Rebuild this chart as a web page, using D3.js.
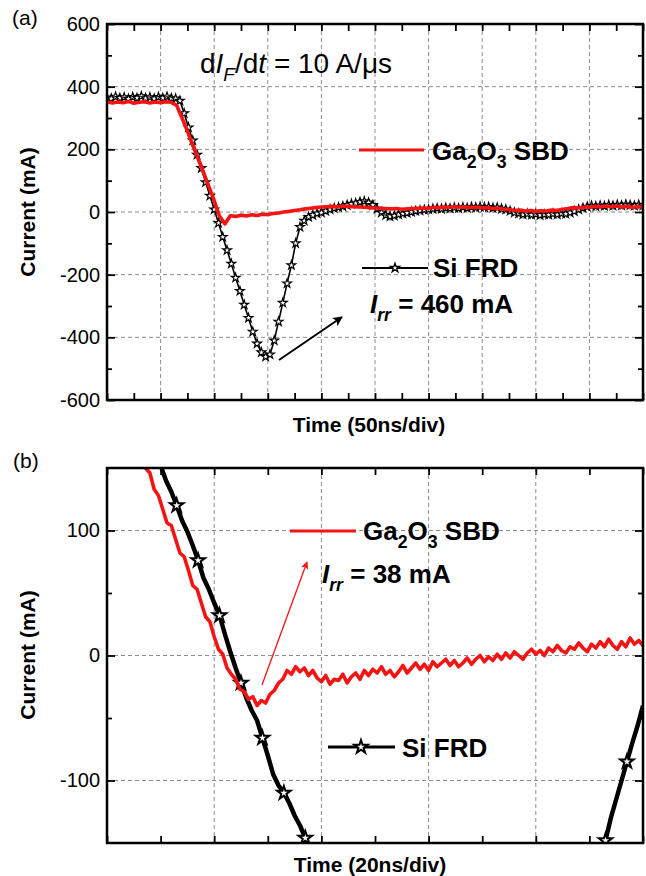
<!DOCTYPE html>
<html>
<head>
<meta charset="utf-8">
<script src="https://cdn.jsdelivr.net/npm/d3@7"></script>
<style>
  body { margin: 0; background: #fff; }
</style>
</head>
<body>
<svg id="fig" width="646" height="876"></svg>
<script>
// time is in divisions: (a) 50 ns/div, (b) 20 ns/div. current in mA.

// panel (a) Ga2O3 SBD, sampled every 0.1 div from 0
var aRedStart = 0, aRedStep = 0.1;
var aRed = [352,348,351,349,353,347,350,352,348,351,349,352,350,
  340,300,258,213,170,126,82,36,-14,-38,-12,-14,-10,-13,-9,-11,-7,
  -8,-5,-3,0,2,5,7,10,12,14,
  16,17,18,17,19,18,17,16,15,14,
  13,12,11,10,11,9,10,11,12,13,
  12,15,14,16,15,17,15,16,14,16,
  13,14,11,12,9,8,5,6,3,5,
  2,4,3,6,5,9,11,14,13,16,
  15,18,16,19,17,19,16,18,15,17,16];

// panel (a) Si FRD, sampled every 0.08 div from 0
var aBlkStart = 0, aBlkStep = 0.08;
var aBlk = [365,362,368,364,366,361,367,364,369,363,366,362,367,364,368,363,362,
  355,315,270,228,183,140,95,52,8,-35,-80,-122,-165,-210,-252,-296,-338,-382,-420,-448,-462,
  -455,-410,-350,-290,-228,-170,-100,-48,-28,-16,-10,-5,-2,
  3,8,12,15,18,22,26,28,32,34,30,22,
  10,-2,-10,-14,-12,-8,-5,-3,0,3,5,7,
  8,10,12,10,13,11,14,12,15,13,16,14,17,15,16,13,14,10,8,3,
  -2,-5,-8,-6,-9,-7,-10,-8,-9,-6,-8,-5,-6,-2,
  2,8,13,17,20,18,21,19,22,20,23,21,24,22,20,23,21];

// panel (b) Ga2O3 SBD, sampled every 0.04 div from 0.28
var bRedStart = 0.28, bRedStep = 0.04;
var bRed = [170,162,150,146,133,128,117,106,104,93,
  82,79,68,56,53,42,31,27,15,5,
  1,-10,-15,-19,-27,-29,-35,-33,-40,-36,
  -38,-31,-28,-22,-19,-12,-15,-9,-13,-10,
  -16,-12,-18,-21,-16,-23,-19,-20,-15,-22,
  -17,-14,-19,-12,-16,-11,-14,-9,-15,-12,
  -17,-13,-8,-14,-10,-6,-11,-7,-12,-5,
  -9,-6,-3,-8,-4,-9,-6,-2,-7,-3,
  0,-5,-1,-4,1,-3,2,-2,3,0,
  -3,2,5,1,4,0,6,3,8,4,
  2,7,5,10,6,3,9,6,11,7,
  13,8,5,11,7,14,9,12,8];

// panel (b) Si FRD, sampled every 0.05 div from 0.40 (mostly off scale in the middle)
var bBlkStart = 0.40, bBlkStep = 0.05;
var bBlk = [172,162,152,140,131,120,108,99,88,76,
  62,53,42,32,17,3,-10,-22,-34,-44,
  -52,-66,-80,-95,-104,-110,-118,-128,-136,-146,
  -156,-168,-180,-192,-205,-218,-230,-245,-258,-272,
  -285,-300,-312,-326,-340,-352,-365,-378,-390,-402,
  -413,-424,-433,-441,-448,-454,-458,-461,-462,-460,
  -455,-448,-440,-430,-418,-405,-390,-375,-358,-342,
  -325,-308,-292,-276,-262,-248,-236,-224,-213,-203,
  -194,-185,-177,-169,-160,-148,-130,-115,-100,-85,
  -70,-56,-40];

var aYTicks = [-600,-400,-200,0,200,400,600];
var aYMinor = [-500,-300,-100,100,300,500];
var bYTicks = [-100,0,100];
var bYMinor = [-50,50];

var FONT = "Arial, 'Liberation Sans', Helvetica, sans-serif";
var RED = "#f41414";
var svg = d3.select("#fig");

function series(start, step, vals) {
  return vals.map(function(v, i) { return {t: start + i * step, v: v}; });
}

function starPath(r) {
  // d3 star size is area; outer radius = sqrt(size * 0.8908)
  return d3.symbol().type(d3.symbolStar).size(r * r / 0.8908)();
}

function makePanel(p) {
  var g = svg.append("g").attr("transform", "translate(" + p.left + "," + p.top + ")");
  var x = d3.scaleLinear().domain([0, p.divs]).range([0, p.width]);
  var y = d3.scaleLinear().domain(p.yDomain).range([p.height, 0]);
  var xMajor = d3.range(0, p.divs + 1);
  var xMinor = d3.range(0.5, p.divs, 1);

  g.append("clipPath").attr("id", "clip-" + p.id)
    .append("rect").attr("width", p.width).attr("height", p.height);

  // dashed grid
  var grid = g.append("g").attr("stroke", "#8c8c8c").attr("stroke-width", 1).attr("stroke-dasharray", "4,3");
  grid.selectAll(".gx").data(xMajor.slice(1, -1)).enter().append("line")
    .attr("x1", function(d) { return x(d); }).attr("x2", function(d) { return x(d); })
    .attr("y1", 0).attr("y2", p.height);
  grid.selectAll(".gy").data(p.yGrid).enter().append("line")
    .attr("x1", 0).attr("x2", p.width)
    .attr("y1", function(d) { return y(d); }).attr("y2", function(d) { return y(d); });

  // inward ticks on all four sides
  function ticks(axisFn, scale, values, size, tx, ty, labels) {
    var a = axisFn(scale).tickValues(values).tickSizeInner(-size).tickSizeOuter(0).tickPadding(7);
    a.tickFormat(labels ? function(d) { return String(d); } : "");
    var ag = g.append("g").attr("transform", "translate(" + tx + "," + ty + ")").call(a);
    ag.select(".domain").remove();
    ag.selectAll(".tick line").attr("stroke", "#000").attr("stroke-width", 1.8);
    ag.selectAll("text").attr("font-size", 20).attr("font-family", FONT).attr("fill", "#000");
  }
  ticks(d3.axisLeft, y, p.yTicks, 8, 0, 0, true);
  ticks(d3.axisLeft, y, p.yMinor, 5, 0, 0, false);
  ticks(d3.axisRight, y, p.yTicks, 8, p.width, 0, false);
  ticks(d3.axisRight, y, p.yMinor, 5, p.width, 0, false);
  ticks(d3.axisBottom, x, xMajor, 7, 0, p.height, false);
  ticks(d3.axisBottom, x, xMinor, 7, 0, p.height, false);
  ticks(d3.axisTop, x, xMajor, 7, 0, 0, false);
  ticks(d3.axisTop, x, xMinor, 7, 0, 0, false);

  var line = d3.line()
    .x(function(d) { return x(d.t); })
    .y(function(d) { return y(d.v); });

  var plot = g.append("g").attr("clip-path", "url(#clip-" + p.id + ")");
  plot.append("path").datum(p.black)
    .attr("d", line).attr("fill", "none")
    .attr("stroke", "#000").attr("stroke-width", p.blackWidth).attr("stroke-linejoin", "round");
  plot.selectAll(".star")
    .data(p.black.filter(function(d, i) { return i % p.markEvery === p.markOffset; }))
    .enter().append("path")
    .attr("class", "star")
    .attr("d", starPath(p.starR))
    .attr("transform", function(d) { return "translate(" + x(d.t) + "," + y(d.v) + ")"; })
    .attr("fill", "#fff").attr("stroke", "#000").attr("stroke-width", p.starStroke);
  plot.append("path").datum(p.red)
    .attr("d", line).attr("fill", "none")
    .attr("stroke", RED).attr("stroke-width", p.redWidth).attr("stroke-linejoin", "round");

  g.append("rect").attr("width", p.width).attr("height", p.height)
    .attr("fill", "none").attr("stroke", "#000").attr("stroke-width", 2.5);
}

function richText(x, y, size, weight, parts, fill) {
  var t = svg.append("text").attr("x", x).attr("y", y)
    .attr("font-size", size).attr("font-weight", weight)
    .attr("font-family", FONT).attr("fill", fill || "#000");
  var shift = 0;
  parts.forEach(function(q) {
    var s = t.append("tspan").text(q.t);
    var want = q.sub ? Math.round(size * 0.3) : 0;
    if (want - shift !== 0) s.attr("dy", want - shift);
    shift = want;
    if (q.sub) s.attr("font-size", size * 0.68);
    if (q.it) s.attr("font-style", "italic");
  });
  return t;
}

var defs = svg.append("defs");
defs.append("marker").attr("id", "headBlack")
  .attr("viewBox", "0 0 10 10").attr("refX", 9).attr("refY", 5)
  .attr("markerWidth", 5).attr("markerHeight", 5).attr("markerUnits", "strokeWidth")
  .attr("orient", "auto")
  .append("path").attr("d", "M0,0L10,5L0,10L2.5,5Z").attr("fill", "#000");
defs.append("marker").attr("id", "headRed")
  .attr("viewBox", "0 0 10 10").attr("refX", 9).attr("refY", 5)
  .attr("markerWidth", 6).attr("markerHeight", 6).attr("markerUnits", "strokeWidth")
  .attr("orient", "auto")
  .append("path").attr("d", "M0,0L10,5L0,10L2.5,5Z").attr("fill", RED);

// ---- panel (a)
makePanel({
  id: "a", left: 107, top: 24, width: 536, height: 376,
  divs: 10, yDomain: [-600, 600],
  yTicks: aYTicks, yMinor: aYMinor, yGrid: [-400, -200, 0, 200, 400],
  red: series(aRedStart, aRedStep, aRed),
  black: series(aBlkStart, aBlkStep, aBlk),
  redWidth: 3.6, blackWidth: 1.6, starR: 4.6, starStroke: 1.2, markEvery: 1, markOffset: 0
});

svg.append("text").attr("x", 12).attr("y", 25).attr("font-size", 21)
  .attr("font-family", FONT).text("(a)");
svg.append("text").attr("transform", "translate(35,212) rotate(-90)")
  .attr("text-anchor", "middle").attr("font-size", 21).attr("font-weight", "bold")
  .attr("font-family", FONT).text("Current (mA)");
svg.append("text").attr("x", 369).attr("y", 432)
  .attr("text-anchor", "middle").attr("font-size", 21).attr("font-weight", "bold")
  .attr("font-family", FONT).text("Time (50ns/div)");

richText(200, 73, 28, "normal", [
  {t: "d"}, {t: "I", it: 1}, {t: "F", it: 1, sub: 1}, {t: "/d"}, {t: "t", it: 1}, {t: " = 10 A/\u03bcs"}
]);

svg.append("line").attr("x1", 359).attr("x2", 424).attr("y1", 150).attr("y2", 150)
  .attr("stroke", RED).attr("stroke-width", 3);
richText(432, 160, 26, "bold", [{t: "Ga"}, {t: "2", sub: 1}, {t: "O"}, {t: "3", sub: 1}, {t: " SBD"}]);

svg.append("line").attr("x1", 362).attr("x2", 428).attr("y1", 268).attr("y2", 268)
  .attr("stroke", "#000").attr("stroke-width", 1.8);
svg.append("path").attr("d", starPath(4.8)).attr("transform", "translate(395,268)")
  .attr("fill", "#fff").attr("stroke", "#000").attr("stroke-width", 1.3);
richText(433, 277, 26, "bold", [{t: "Si FRD"}]);
richText(370, 313, 26, "bold", [{t: "I", it: 1}, {t: "rr", it: 1, sub: 1}, {t: " = 460 mA"}]);

svg.append("line").attr("x1", 279).attr("y1", 360).attr("x2", 342).attr("y2", 317)
  .attr("stroke", "#000").attr("stroke-width", 2).attr("marker-end", "url(#headBlack)");

// ---- panel (b)
makePanel({
  id: "b", left: 107, top: 468, width: 536, height: 375,
  divs: 5, yDomain: [-150, 150],
  yTicks: bYTicks, yMinor: bYMinor, yGrid: [-100, 0, 100],
  red: series(bRedStart, bRedStep, bRed),
  black: series(bBlkStart, bBlkStep, bBlk),
  redWidth: 3.6, blackWidth: 4.5, starR: 7, starStroke: 2, markEvery: 4, markOffset: 1
});

svg.append("text").attr("x", 13).attr("y", 468).attr("font-size", 21)
  .attr("font-family", FONT).text("(b)");
svg.append("text").attr("transform", "translate(35,655) rotate(-90)")
  .attr("text-anchor", "middle").attr("font-size", 21).attr("font-weight", "bold")
  .attr("font-family", FONT).text("Current (mA)");
svg.append("text").attr("x", 370).attr("y", 872)
  .attr("text-anchor", "middle").attr("font-size", 21).attr("font-weight", "bold")
  .attr("font-family", FONT).text("Time (20ns/div)");

svg.append("line").attr("x1", 290).attr("x2", 356).attr("y1", 531).attr("y2", 531)
  .attr("stroke", RED).attr("stroke-width", 3);
richText(363, 540, 26, "bold", [{t: "Ga"}, {t: "2", sub: 1}, {t: "O"}, {t: "3", sub: 1}, {t: " SBD"}]);
richText(322, 583, 26, "bold", [{t: "I", it: 1}, {t: "rr", it: 1, sub: 1}, {t: " = 38 mA"}]);

svg.append("line").attr("x1", 262).attr("y1", 685).attr("x2", 307).attr("y2", 562)
  .attr("stroke", RED).attr("stroke-width", 1.3).attr("marker-end", "url(#headRed)");

svg.append("line").attr("x1", 328).attr("x2", 395).attr("y1", 747).attr("y2", 747)
  .attr("stroke", "#000").attr("stroke-width", 3);
svg.append("path").attr("d", starPath(7)).attr("transform", "translate(361,747)")
  .attr("fill", "#fff").attr("stroke", "#000").attr("stroke-width", 2);
richText(402, 757, 26, "bold", [{t: "Si FRD"}]);
</script>
</body>
</html>
